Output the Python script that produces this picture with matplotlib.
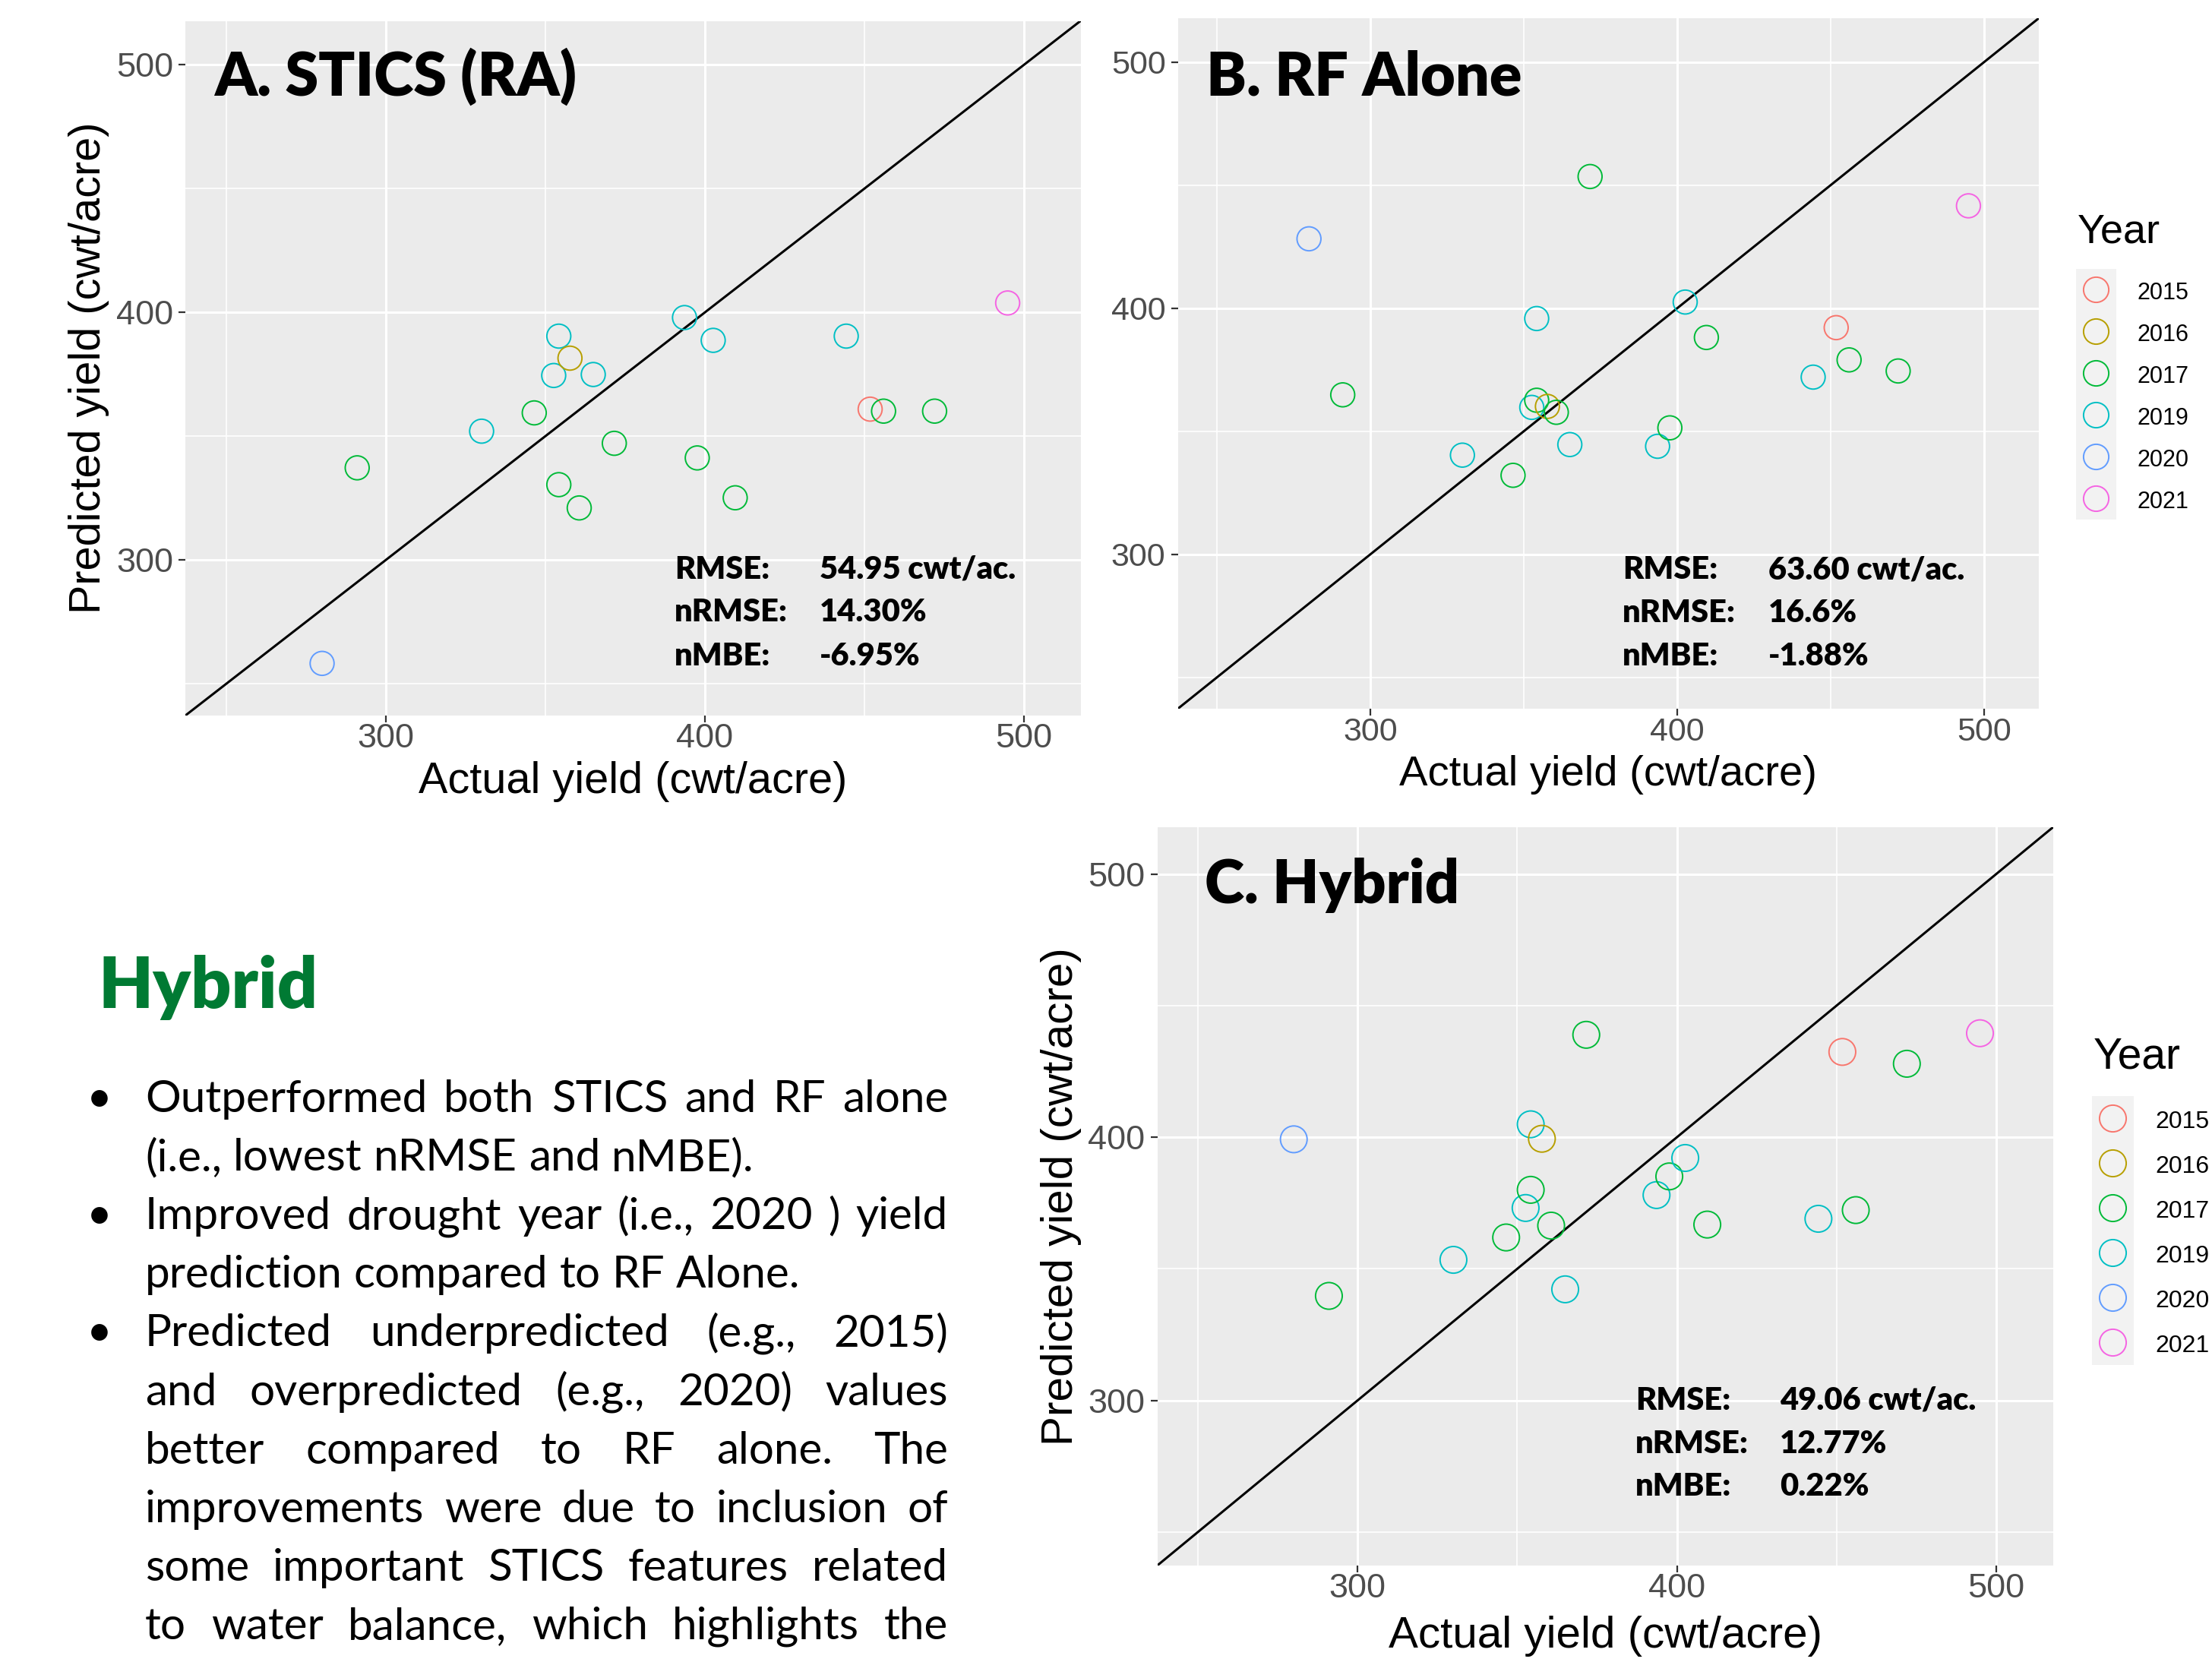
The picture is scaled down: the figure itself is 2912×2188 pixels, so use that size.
import numpy as np
import matplotlib.pyplot as plt

plt.rcParams['font.family'] = ['Liberation Sans', 'DejaVu Sans']

# ---- data ----
years = ["2015", "2016", "2017", "2019", "2020", "2021"]
year_colors = ["#F8766D", "#B79F00", "#00BA38", "#00BFC4", "#619CFF", "#F564E3"]

actual = [280.0, 291.0, 330.0, 346.5, 352.6, 354.2, 354.2, 357.7, 360.6, 365.0,
          371.6, 393.6, 397.6, 402.6, 409.5, 444.3, 451.8, 456.0, 472.0, 494.9]
obs_year = ["2020", "2017", "2019", "2017", "2019", "2019", "2017", "2016", "2017", "2019",
            "2017", "2019", "2017", "2019", "2017", "2019", "2015", "2017", "2017", "2021"]

pred_stics = [258.2, 337.2, 352.0, 359.4, 374.5, 390.4, 330.4, 381.5, 321.0, 374.9,
              347.1, 397.9, 341.2, 388.7, 325.1, 390.4, 360.9, 360.1, 360.1, 403.8]
pred_rf = [428.2, 364.8, 340.3, 332.1, 359.7, 395.8, 362.6, 360.1, 357.7, 344.6,
           453.5, 343.9, 351.4, 402.5, 388.1, 372.0, 392.1, 379.0, 374.5, 441.6]
pred_hybrid = [399.2, 339.7, 353.4, 361.9, 373.1, 404.9, 380.0, 399.4, 366.4, 342.2,
               438.9, 378.0, 385.1, 392.1, 366.8, 369.0, 432.4, 372.3, 427.9, 439.5]

stat_names = ["RMSE:", "nRMSE:", "nMBE:"]
stats_stics = ["54.95 cwt/ac.", "14.30%", "-6.95%"]
stats_rf = ["63.60 cwt/ac.", "16.6%", "-1.88%"]
stats_hybrid = ["49.06 cwt/ac.", "12.77%", "0.22%"]

major_ticks = [300, 400, 500]
minor_ticks = [250, 350, 450]

body_title = "Hybrid"
body_lines = ["Outperformed both STICS and RF alone",
              "(i.e., lowest nRMSE and nMBE).",
              "Improved drought year (i.e., 2020 ) yield",
              "prediction compared to RF Alone.",
              "Predicted underpredicted (e.g., 2015)",
              "and overpredicted (e.g., 2020)  values",
              "better compared to RF alone. The",
              "improvements were due to inclusion of",
              "some important STICS features related",
              "to water balance, which highlights the"]
bullet_on = [True, False, True, False, True, False, False, False, False, False]
justified = [True, False, True, False, True, True, True, True, True, True]

W, H = 2912, 2188
fig = plt.figure(figsize=(W / 100, H / 100), dpi=100)
fig.patch.set_facecolor("white")


def box(l, t, r, b):
    return [l / W, 1 - b / H, (r - l) / W, (b - t) / H]


lims = (237.25, 517.75)
cols = [year_colors[years.index(y)] for y in obs_year]


def panel(rect, pred, title, stats, title_xy, stat_x, stat_y, tick_fs, lab_fs,
          ms, ylab_x=None):
    ax = fig.add_axes(rect)
    ax.set_facecolor("#EBEBEB")
    for s in ax.spines.values():
        s.set_visible(False)
    ax.set_xlim(lims)
    ax.set_ylim(lims)
    ax.set_xticks(major_ticks)
    ax.set_yticks(major_ticks)
    ax.set_xticks(minor_ticks, minor=True)
    ax.set_yticks(minor_ticks, minor=True)
    ax.grid(which="major", color="white", lw=2.2)
    ax.grid(which="minor", color="white", lw=1.2)
    ax.set_axisbelow(True)
    ax.tick_params(which="major", length=6.5, width=1.6, color="#333333",
                   labelcolor="#4D4D4D", labelsize=tick_fs)
    ax.tick_params(which="minor", length=0)
    ax.tick_params(axis="x", pad=1)
    ax.tick_params(axis="y", pad=5)
    ax.axline((300, 300), slope=1, color="black", lw=2.2, zorder=2)
    ax.scatter(actual, pred, s=ms ** 2, facecolors="none", edgecolors=cols,
               linewidths=1.4, zorder=3)
    ax.set_xlabel("Actual yield (cwt/acre)", fontsize=lab_fs)
    ax.xaxis.set_label_coords(0.5, -0.0956)
    ax.xaxis.label.set_va("center")
    if ylab_x is not None:
        ax.set_ylabel("Predicted yield (cwt/acre)", fontsize=lab_fs)
        ax.yaxis.set_label_coords(ylab_x, 0.5)
        ax.yaxis.label.set_va("center")
    ax.text(title_xy[0], title_xy[1], title, transform=ax.transAxes,
            fontsize=57, fontweight="heavy", family="Lato", va="baseline")
    for name, val, y in zip(stat_names, stats, stat_y):
        ax.text(stat_x[0], y, name, transform=ax.transAxes, fontsize=30,
                fontweight="heavy", family="Lato", va="baseline")
        ax.text(stat_x[1], y, val, transform=ax.transAxes, fontsize=30,
                fontweight="heavy", family="Lato", va="baseline")
    return ax


def legend(rect, title_fs, lab_fs, ms):
    lg = fig.add_axes(rect)
    lg.set_facecolor("#F2F2F2")
    for s in lg.spines.values():
        s.set_visible(False)
    lg.set_xticks([])
    lg.set_yticks([])
    lg.set_xlim(0, 1)
    lg.set_ylim(len(years), 0)
    pos = np.arange(len(years)) + 0.5
    lg.scatter(np.full(len(years), 0.5), pos, s=ms ** 2, facecolors="none",
               edgecolors=year_colors, linewidths=1.4, clip_on=False)
    for p, y in zip(pos, years):
        lg.text(1.51, p + 0.22, y, fontsize=lab_fs, va="baseline", clip_on=False)
    lg.text(0.03, -0.62, "Year", fontsize=title_fs, va="baseline", clip_on=False)


panel(box(244.5, 27.5, 1422.5, 941.6), pred_stics, "A. STICS (RA)", stats_stics,
      (0.032, 0.893), (0.546, 0.708), (0.1965, 0.1352, 0.0718), 32.5, 41.5, 22.7,
      ylab_x=-0.108)
panel(box(1550.5, 24.2, 2683.7, 933.1), pred_rf, "B. RF Alone", stats_rf,
      (0.033, 0.889), (0.517, 0.686), (0.188, 0.125, 0.063), 31, 40.5, 22.7)
panel(box(1523.5, 1089.1, 2702.6, 2061), pred_hybrid, "C. Hybrid", stats_hybrid,
      (0.053, 0.897), (0.534, 0.695), (0.211, 0.152, 0.095), 32.5, 42, 25.3,
      ylab_x=-0.1077)

legend(box(2733, 354, 2786, 684), 39, 22, 23.9)
legend(box(2754, 1443, 2809, 1797), 41, 23, 25.3)

# ---- text block on the lower left ----
fig.text(129 / W, 1 - 1327 / H, body_title, fontsize=67, fontweight="heavy",
         family="Lato", color="#007A33", va="baseline")

renderer = fig.canvas.get_renderer()
body_fs = 42
x0, x1 = 191, 1248


def width_of(s):
    t = fig.text(0, 0, s, fontsize=body_fs, family="Lato")
    w = t.get_window_extent(renderer).width
    t.remove()
    return w


space_w = width_of("a a") - width_of("aa")

for i, (line, bul, just) in enumerate(zip(body_lines, bullet_on, justified)):
    yb = 1 - (1464 + 77.1 * i) / H
    if bul:
        fig.text(131 / W, yb, "\u2022", fontsize=body_fs, family="Lato",
                 ha="center", va="baseline")
    words = line.split()
    texts = [fig.text(0, yb, w, fontsize=body_fs, family="Lato", va="baseline")
             for w in words]
    widths = [t.get_window_extent(renderer).width for t in texts]
    if just and len(words) > 1:
        gap = (x1 - x0 - sum(widths)) / (len(words) - 1)
    else:
        gap = space_w
    x = x0
    for t, w in zip(texts, widths):
        t.set_x(x / W)
        x += w + gap

fig.savefig("out.png", dpi=100)
